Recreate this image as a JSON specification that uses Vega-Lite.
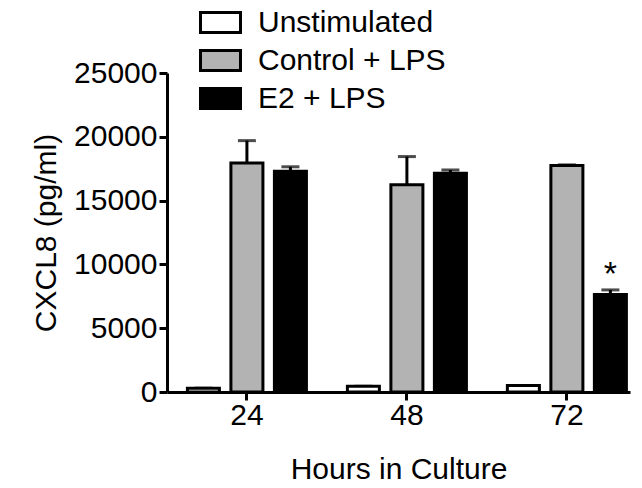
{
  "$schema": "https://vega.github.io/schema/vega-lite/v6.json",
  "autosize": "none",
  "padding": {"left": 167, "top": 73, "right": 12, "bottom": 96},
  "width": 463,
  "height": 319,
  "background": "white",
  "config": {
    "view": {"stroke": null},
    "font": "Liberation Sans",
    "axis": {"grid": false, "domainColor": "black", "domainWidth": 3, "tickColor": "black", "tickWidth": 3, "tickSize": 8, "labelColor": "black", "titleColor": "black", "labelFontSize": 30, "titleFontSize": 30, "labelFont": "Liberation Sans", "titleFont": "Liberation Sans", "titleFontWeight": "normal"}
  },
  "data": {
    "values": [
      {"hours": "24", "group": "Unstimulated", "value": 300, "upper": 300, "label": ""},
      {"hours": "24", "group": "Control + LPS", "value": 17950, "upper": 19700, "label": ""},
      {"hours": "24", "group": "E2 + LPS", "value": 17300, "upper": 17650, "label": ""},
      {"hours": "48", "group": "Unstimulated", "value": 450, "upper": 450, "label": ""},
      {"hours": "48", "group": "Control + LPS", "value": 16250, "upper": 18450, "label": ""},
      {"hours": "48", "group": "E2 + LPS", "value": 17150, "upper": 17400, "label": ""},
      {"hours": "72", "group": "Unstimulated", "value": 500, "upper": 500, "label": ""},
      {"hours": "72", "group": "Control + LPS", "value": 17750, "upper": 17800, "label": ""},
      {"hours": "72", "group": "E2 + LPS", "value": 7650, "upper": 8000, "label": "*"}
    ]
  },
  "encoding": {
    "x": {
      "field": "hours", "type": "nominal",
      "scale": {"paddingInner": 0.256, "paddingOuter": 0.075, "align": 0.85},
      "axis": {"title": "Hours in Culture", "labelAngle": 0, "labelPadding": 0, "titlePadding": 24}
    },
    "xOffset": {
      "field": "group", "type": "nominal",
      "sort": ["Unstimulated", "Control + LPS", "E2 + LPS"],
      "scale": {"paddingInner": 0.264, "paddingOuter": 0}
    }
  },
  "layer": [
    {
      "mark": {"type": "rule", "stroke": "black", "strokeWidth": 3},
      "encoding": {
        "y": {"field": "value", "type": "quantitative"},
        "y2": {"field": "upper"}
      }
    },
    {
      "mark": {"type": "tick", "color": "black", "size": 18, "thickness": 3},
      "encoding": {
        "y": {"field": "upper", "type": "quantitative"}
      }
    },
    {
      "mark": {"type": "bar", "stroke": "black", "strokeWidth": 3},
      "encoding": {
        "y": {
          "field": "value", "type": "quantitative",
          "scale": {"domain": [0, 25000], "nice": false},
          "axis": {"title": "CXCL8 (pg/ml)", "values": [0, 5000, 10000, 15000, 20000, 25000], "format": "d", "labelPadding": 2, "titlePadding": 12}
        },
        "fill": {
          "field": "group", "type": "nominal",
          "sort": ["Unstimulated", "Control + LPS", "E2 + LPS"],
          "scale": {"domain": ["Unstimulated", "Control + LPS", "E2 + LPS"], "range": ["white", "#b3b3b3", "black"]},
          "legend": {
            "title": null, "orient": "none", "legendX": 32, "legendY": -72,
            "padding": 0,
            "symbolType": "M-1,-0.5L1,-0.5L1,0.5L-1,0.5Z",
            "symbolSize": 1600, "symbolStrokeColor": "black", "symbolStrokeWidth": 3,
            "labelFontSize": 30, "labelFont": "Liberation Sans", "labelColor": "black", "labelLimit": 0,
            "labelOffset": 16, "rowPadding": -3
          }
        }
      }
    },
    {
      "mark": {"type": "text", "fontSize": 34, "font": "Liberation Sans", "baseline": "alphabetic", "dy": -5, "color": "black"},
      "encoding": {
        "y": {"field": "upper", "type": "quantitative"},
        "text": {"field": "label"}
      }
    }
  ]
}
